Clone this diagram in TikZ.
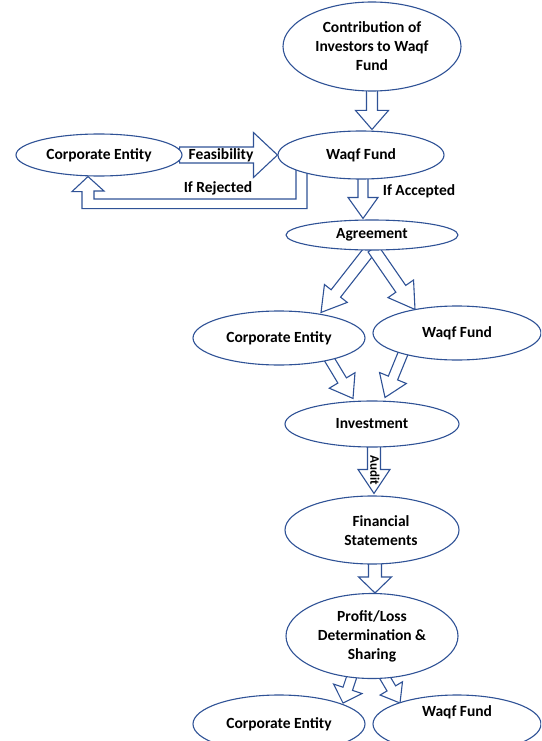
\documentclass[tikz,border=0pt]{standalone}
\usepackage{fontspec}
\setmainfont{Carlito}
\usetikzlibrary{shapes.geometric,calc,backgrounds}
\definecolor{edgeblue}{RGB}{47,82,150}

% Block arrow from #1 to #2: body half-width #3, head half-width #4, head length #5 (pt)
\newcommand{\blockarrow}[5]{%
  \draw[flowarrow] let \p1=(#1), \p2=(#2),
      \n1={atan2(\y2-\y1,\x2-\x1)}, \n2={veclen(\x2-\x1,\y2-\y1)} in
    ($(\p1)+({\n1+90}:#3pt)$)
    -- ($(\p1)+(\n1:{(\n2-#5)*1pt})+({\n1+90}:#3pt)$)
    -- ($(\p1)+(\n1:{(\n2-#5)*1pt})+({\n1+90}:#4pt)$)
    -- (\p2)
    -- ($(\p1)+(\n1:{(\n2-#5)*1pt})+({\n1-90}:#4pt)$)
    -- ($(\p1)+(\n1:{(\n2-#5)*1pt})+({\n1-90}:#3pt)$)
    -- ($(\p1)+({\n1-90}:#3pt)$) -- cycle;}

\tikzset{
  bubble/.style={ellipse, draw=edgeblue, line width=1.1pt, fill=white,
    inner sep=0pt, align=center, font=\bfseries\fontsize{15.5}{19}\selectfont},
  flowarrow/.style={draw=edgeblue, line width=1.1pt, fill=white, line join=miter},
  lbl/.style={font=\bfseries\fontsize{15.5}{19}\selectfont, inner sep=0pt},
}

\begin{document}
\begin{tikzpicture}[x=1pt, y=-1pt]
\path[use as bounding box] (0,0) rectangle (541,741);
\clip (0,0) rectangle (541,741);

% stages of the flow
\node[bubble, minimum width=178pt, minimum height=89pt] (c1) at (372,46.5)
  {Contribution of\\Investors to Waqf\\Fund};
\node[bubble, minimum width=166pt, minimum height=48pt] (wf) at (361,155) {Waqf Fund};
\node[bubble, minimum width=166pt, minimum height=42pt] (ce1) at (99,155) {Corporate Entity};
\node[bubble, minimum width=172pt, minimum height=30pt] (ag) at (372,235) {Agreement};
\node[bubble, minimum width=172pt, minimum height=54pt] (ce2) at (279,338) {Corporate Entity};
\node[bubble, minimum width=168pt, minimum height=54pt] (wf2) at (457,333) {Waqf Fund};
\node[bubble, minimum width=174pt, minimum height=46pt] (inv) at (372,424) {Investment};
\node[bubble, minimum width=174pt, minimum height=68pt] (fs) at (372,530) {};
\node[lbl, align=center] at ($(fs.center)+(9,1)$) {Financial\\Statements};
\node[bubble, minimum width=172pt, minimum height=85pt] (pl) at (372,636)
  {Profit/Loss\\Determination \&\\Sharing};
\node[bubble, minimum width=172pt, minimum height=58pt] (ce3) at (279,724) {Corporate Entity};
\node[bubble, minimum width=168pt, minimum height=58pt] (wf3) at (457,724) {};
\node[lbl] at ($(wf3.center)+(0,-12)$) {Waqf Fund};

% connectors behind the ellipses
\begin{pgfonlayer}{background}
  \blockarrow{$(c1.south)+(0,-3)$}{$(wf.north)+(11,-1)$}{5.5}{16.5}{19}
  \blockarrow{$(ce1.east)+(-3,0)$}{wf.west}{8}{22.5}{24}
  \blockarrow{$(wf.south)+(2,-3)$}{$(ag.north)+(-9,-1)$}{5}{15}{21}
  \blockarrow{$(ag.south)+(-1,-2)$}{$(ce2.north)+(42,2)$}{6}{14.5}{24}
  \blockarrow{$(ag.south)+(1,-2)$}{$(wf2.north)+(-42,4)$}{6}{15.5}{25}
  \blockarrow{$(ce2.center)+(49,19)$}{$(inv.north)+(-19,-2)$}{5}{15}{21}
  \blockarrow{$(wf2.center)+(-53,18)$}{$(inv.north)+(13,-3)$}{5}{14.5}{21}
  \blockarrow{$(inv.south)+(2,-3)$}{$(fs.north)+(2,-2)$}{6.5}{16}{24}
  \blockarrow{$(fs.south)+(3,-3)$}{$(pl.north)+(3,0)$}{6.5}{16.5}{16}
  \blockarrow{$(pl.south)+(-20,-3)$}{$(ce3.center)+(64,-21)$}{5}{15}{15}
  \blockarrow{$(pl.south)+(12,-3)$}{$(wf3.center)+(-57,-21)$}{5}{13}{17}
  % rejected proposals go back to the corporate entity
  \draw[flowarrow] ($(wf.center)+(-65,10)$) -- ++(0,34) -- ++(-202,0) -- ++(0,-8)
    -- ++(10,0) -- ($(ce1.south)+(-11,0)$) -- ++(-16,15) -- ++(10,0) -- ++(0,17)
    -- ++(225,0) -- ++(0,-43) -- cycle;
\end{pgfonlayer}

% connector labels
\node[lbl] at (221,155) {Feasibility};
\node[lbl] at (218,188) {If Rejected};
\node[lbl] at (419,191) {If Accepted};
\node[lbl, font=\bfseries\fontsize{13}{15}\selectfont, rotate=-90] at (375,470) {Audit};
\end{tikzpicture}
\end{document}
